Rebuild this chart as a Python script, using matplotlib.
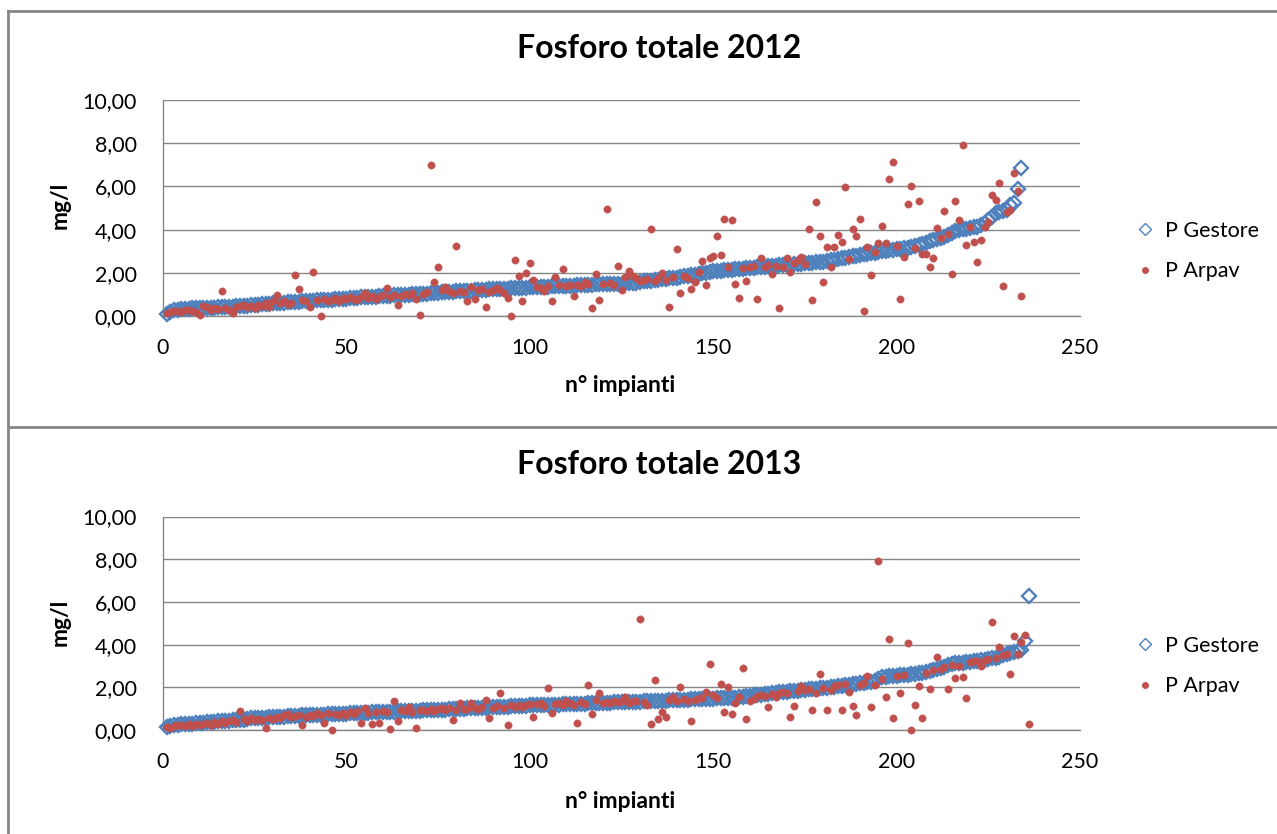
import matplotlib
matplotlib.use("Agg")
import matplotlib.pyplot as plt
from matplotlib.lines import Line2D
from matplotlib.ticker import FuncFormatter
import numpy as np

plt.rcParams["font.family"] = ["Lato", "DejaVu Sans"]

# fosforo totale, mg/l, impianti ordinati per valore del gestore
gestore_2012 = [
    0.10, 0.20, 0.28, 0.30, 0.32, 0.33, 0.34, 0.35, 0.35, 0.36,
    0.37, 0.37, 0.38, 0.39, 0.40, 0.40, 0.41, 0.42, 0.43, 0.44,
    0.45, 0.47, 0.48, 0.50, 0.51, 0.52, 0.54, 0.55, 0.56, 0.58,
    0.59, 0.60, 0.62, 0.63, 0.65, 0.66, 0.67, 0.68, 0.69, 0.70,
    0.71, 0.72, 0.73, 0.74, 0.75, 0.76, 0.77, 0.78, 0.80, 0.81,
    0.83, 0.84, 0.85, 0.86, 0.87, 0.88, 0.89, 0.90, 0.91, 0.92,
    0.93, 0.94, 0.95, 0.96, 0.97, 0.98, 0.99, 1.00, 1.01, 1.02,
    1.03, 1.04, 1.05, 1.06, 1.08, 1.09, 1.10, 1.12, 1.13, 1.14,
    1.15, 1.16, 1.17, 1.18, 1.19, 1.20, 1.21, 1.22, 1.23, 1.24,
    1.25, 1.25, 1.26, 1.27, 1.28, 1.29, 1.30, 1.30, 1.31, 1.32,
    1.33, 1.34, 1.35, 1.35, 1.36, 1.37, 1.38, 1.38, 1.39, 1.40,
    1.40, 1.41, 1.42, 1.43, 1.43, 1.44, 1.45, 1.46, 1.46, 1.47,
    1.48, 1.48, 1.49, 1.50, 1.50, 1.51, 1.51, 1.53, 1.55, 1.58,
    1.60, 1.62, 1.64, 1.66, 1.68, 1.70, 1.72, 1.74, 1.76, 1.78,
    1.80, 1.83, 1.86, 1.89, 1.92, 1.95, 1.98, 2.01, 2.04, 2.07,
    2.09, 2.10, 2.12, 2.13, 2.15, 2.16, 2.18, 2.19, 2.21, 2.22,
    2.24, 2.25, 2.27, 2.28, 2.30, 2.31, 2.33, 2.34, 2.36, 2.37,
    2.38, 2.40, 2.41, 2.42, 2.44, 2.45, 2.47, 2.48, 2.50, 2.52,
    2.55, 2.58, 2.61, 2.64, 2.67, 2.70, 2.73, 2.76, 2.79, 2.82,
    2.85, 2.88, 2.90, 2.93, 2.96, 2.99, 3.02, 3.04, 3.06, 3.08,
    3.10, 3.13, 3.16, 3.20, 3.24, 3.29, 3.34, 3.40, 3.46, 3.52,
    3.56, 3.60, 3.68, 3.76, 3.84, 3.92, 3.99, 4.02, 4.05, 4.08,
    4.10, 4.12, 4.20, 4.30, 4.45, 4.60, 4.75, 4.82, 4.86, 4.90,
    5.15, 5.25, 5.86, 6.85,
]
arpav_2012 = [
    0.15, 0.18, 0.22, 0.25, 0.20, 0.28, 0.30, 0.22, 0.18, 0.05,
    0.48, 0.40, 0.30, 0.35, 0.32, 1.14, 0.38, 0.30, 0.15, 0.42,
    0.45, 0.50, 0.40, 0.48, 0.38, 0.52, 0.45, 0.60, 0.42, 0.70,
    0.97, 0.62, 0.68, 0.55, 0.60, 1.90, 1.25, 0.75, 0.70, 0.43,
    2.04, 0.72, 0.00, 0.80, 0.68, 0.75, 0.82, 0.70, 0.85, 0.78,
    0.88, 0.80, 0.72, 0.90, 1.05, 0.85, 0.92, 0.78, 0.88, 0.95,
    1.28, 0.90, 0.98, 0.51, 0.92, 1.00, 0.95, 1.05, 0.77, 0.05,
    1.02, 1.10, 7.00, 1.57, 2.27, 1.20, 1.36, 1.15, 1.08, 3.24,
    1.18, 1.10, 0.71, 1.33, 0.77, 1.21, 1.25, 0.42, 1.13, 1.22,
    1.28, 1.20, 1.08, 0.82, 0.00, 2.59, 1.87, 0.71, 2.00, 2.47,
    1.67, 1.33, 1.30, 1.17, 1.40, 0.68, 1.79, 1.45, 2.16, 1.38,
    1.42, 0.94, 1.45, 1.40, 1.56, 1.48, 0.36, 1.94, 0.72, 1.50,
    4.94, 1.52, 1.45, 2.31, 1.20, 1.80, 2.10, 1.85, 1.78, 1.60,
    1.65, 1.70, 4.01, 1.62, 1.75, 2.00, 1.68, 0.42, 1.79, 3.12,
    1.05, 1.85, 1.76, 1.25, 1.59, 2.02, 2.53, 1.42, 2.70, 2.78,
    3.70, 2.81, 4.51, 2.27, 4.44, 1.48, 0.85, 2.20, 1.64, 2.25,
    2.30, 0.77, 2.70, 2.28, 2.35, 1.94, 2.32, 0.36, 2.27, 2.69,
    2.04, 2.45, 2.61, 2.72, 2.40, 4.01, 0.73, 5.28, 3.70, 1.57,
    3.18, 2.25, 3.18, 3.75, 3.44, 5.99, 2.65, 4.01, 3.70, 4.51,
    0.25, 3.18, 1.90, 2.95, 3.39, 4.17, 3.39, 6.34, 7.14, 3.24,
    0.77, 2.75, 5.19, 6.02, 3.15, 5.34, 2.87, 2.87, 2.25, 2.70,
    4.09, 3.62, 4.86, 3.80, 1.94, 5.34, 4.44, 7.90, 3.29, 4.14,
    3.44, 2.51, 3.52, 4.10, 4.34, 5.60, 5.37, 6.14, 1.37, 4.81,
    4.90, 6.60, 5.80, 0.94,
]
gestore_2013 = [
    0.12, 0.18, 0.22, 0.24, 0.26, 0.28, 0.29, 0.30, 0.32, 0.34,
    0.35, 0.36, 0.37, 0.38, 0.40, 0.41, 0.42, 0.43, 0.45, 0.46,
    0.47, 0.49, 0.51, 0.54, 0.55, 0.56, 0.57, 0.58, 0.59, 0.60,
    0.61, 0.62, 0.63, 0.64, 0.65, 0.66, 0.67, 0.68, 0.69, 0.70,
    0.70, 0.71, 0.72, 0.72, 0.73, 0.74, 0.75, 0.75, 0.76, 0.77,
    0.78, 0.78, 0.79, 0.80, 0.80, 0.81, 0.82, 0.82, 0.83, 0.84,
    0.85, 0.85, 0.86, 0.87, 0.88, 0.88, 0.89, 0.90, 0.90, 0.91,
    0.92, 0.93, 0.93, 0.94, 0.95, 0.96, 0.96, 0.97, 0.98, 0.99,
    1.00, 1.00, 1.01, 1.02, 1.03, 1.04, 1.04, 1.05, 1.06, 1.07,
    1.08, 1.08, 1.09, 1.10, 1.11, 1.12, 1.12, 1.13, 1.14, 1.15,
    1.15, 1.16, 1.16, 1.17, 1.17, 1.18, 1.19, 1.19, 1.20, 1.21,
    1.21, 1.22, 1.23, 1.23, 1.24, 1.25, 1.25, 1.26, 1.27, 1.27,
    1.28, 1.28, 1.29, 1.29, 1.30, 1.31, 1.31, 1.32, 1.33, 1.33,
    1.34, 1.35, 1.35, 1.36, 1.37, 1.37, 1.38, 1.39, 1.39, 1.40,
    1.41, 1.41, 1.42, 1.43, 1.43, 1.44, 1.45, 1.45, 1.46, 1.47,
    1.48, 1.48, 1.49, 1.50, 1.51, 1.52, 1.54, 1.56, 1.58, 1.60,
    1.62, 1.64, 1.66, 1.68, 1.70, 1.72, 1.74, 1.76, 1.78, 1.80,
    1.82, 1.84, 1.85, 1.87, 1.89, 1.90, 1.92, 1.94, 1.95, 1.97,
    1.99, 2.01, 2.03, 2.05, 2.07, 2.10, 2.12, 2.15, 2.17, 2.20,
    2.22, 2.25, 2.27, 2.30, 2.40, 2.46, 2.50, 2.52, 2.54, 2.55,
    2.56, 2.58, 2.59, 2.61, 2.62, 2.65, 2.68, 2.72, 2.76, 2.80,
    2.85, 2.89, 2.96, 3.03, 3.09, 3.12, 3.14, 3.16, 3.18, 3.20,
    3.22, 3.24, 3.26, 3.28, 3.31, 3.35, 3.39, 3.43, 3.51, 3.56,
    3.61, 3.66, 3.70, 3.75, 4.18, 6.29,
]
arpav_2013 = [
    0.15, 0.10, 0.20, 0.25, 0.22, 0.18, 0.30, 0.20, 0.28, 0.22,
    0.30, 0.35, 0.25, 0.38, 0.30, 0.42, 0.35, 0.40, 0.45, 0.38,
    0.90, 0.50, 0.42, 0.55, 0.48, 0.52, 0.45, 0.08, 0.58, 0.50,
    0.62, 0.55, 0.68, 0.75, 0.60, 0.65, 0.70, 0.23, 0.62, 0.72,
    0.66, 0.78, 0.70, 0.34, 0.80, 0.00, 0.74, 0.68, 0.78, 0.72,
    0.82, 0.75, 0.90, 0.31, 1.05, 0.80, 0.28, 0.85, 0.31, 0.88,
    0.82, 0.03, 1.34, 0.44, 0.95, 0.90, 1.09, 0.85, 0.08, 0.92,
    0.95, 0.88, 1.00, 0.90, 0.98, 1.05, 0.92, 1.02, 0.47, 0.96,
    1.28, 1.00, 0.97, 1.25, 1.05, 1.00, 1.08, 1.40, 0.55, 1.02,
    1.12, 1.72, 1.05, 0.22, 1.15, 1.10, 1.18, 1.08, 1.16, 1.20,
    0.62, 1.22, 1.25, 1.12, 1.95, 0.81, 1.20, 1.28, 1.15, 1.36,
    1.25, 1.18, 0.34, 1.30, 1.22, 2.09, 0.75, 1.40, 1.72, 1.28,
    1.32, 1.25, 1.35, 1.30, 1.38, 1.53, 1.28, 1.35, 1.37, 5.20,
    1.30, 1.17, 0.27, 2.34, 0.52, 0.86, 0.62, 1.40, 1.53, 1.34,
    2.00, 1.45, 1.38, 0.42, 1.40, 1.48, 1.50, 1.78, 3.08, 1.66,
    1.50, 2.15, 0.86, 2.00, 0.75, 1.25, 1.55, 2.89, 0.52, 1.34,
    1.47, 1.60, 1.65, 1.61, 1.08, 1.69, 1.53, 1.75, 1.80, 1.72,
    0.62, 1.12, 1.85, 2.08, 1.86, 1.90, 0.94, 1.72, 2.61, 1.98,
    0.94, 1.86, 2.05, 2.10, 0.94, 2.15, 1.80, 1.14, 0.69, 2.11,
    2.22, 2.54, 1.08, 2.11, 7.93, 2.40, 1.56, 4.25, 0.58, 2.55,
    1.72, 2.58, 4.09, 0.00, 1.17, 2.06, 0.58, 2.65, 1.90, 2.80,
    3.42, 2.85, 2.96, 1.90, 3.05, 2.42, 3.00, 2.50, 1.51, 3.20,
    3.25, 3.22, 3.00, 3.28, 3.31, 5.06, 3.39, 3.90, 3.51, 3.56,
    2.61, 4.40, 3.56, 4.10, 4.47, 0.28,
]

years = ["2012", "2013"]
y_ticks = [0, 2, 4, 6, 8, 10]
x_ticks = [0, 50, 100, 150, 200, 250]

BLUE = "#4F81BD"
RED = "#C0504D"
GREY = "#868686"

W, H = 1277, 834


def fx(px):
    return px / W


def fy(py):
    return 1 - py / H


def draw_panel(ax, gestore, arpav, year, top_px):
    xg = np.arange(1, len(gestore) + 1)
    xa = np.arange(1, len(arpav) + 1)
    ax.plot(xg, gestore, linestyle="none", marker="D", markersize=7.0,
            markerfacecolor="none", markeredgecolor=BLUE, markeredgewidth=1.7,
            clip_on=False, zorder=3)
    ax.plot(xa, arpav, linestyle="none", marker="o", markersize=5.3,
            markerfacecolor=RED, markeredgecolor=RED, markeredgewidth=0.3,
            clip_on=False, zorder=4)

    ax.set_xlim(0, 250)
    ax.set_ylim(0, 10)
    ax.set_xticks(x_ticks)
    ax.set_yticks(y_ticks)
    ax.yaxis.set_major_formatter(FuncFormatter(lambda v, _: f"{v:.2f}".replace(".", ",")))
    ax.tick_params(length=0, labelsize=15.5, colors="black")
    ax.tick_params(axis="x", pad=16)
    ax.tick_params(axis="y", pad=19)
    for side in ("top", "right"):
        ax.spines[side].set_visible(False)
    for side in ("left", "bottom"):
        ax.spines[side].set_color(GREY)
        ax.spines[side].set_linewidth(1.0)
    ax.yaxis.grid(True, color=GREY, linewidth=1.0)
    ax.set_axisbelow(True)

    handles = [
        Line2D([], [], linestyle="none", marker="D", markersize=6,
               markerfacecolor="none", markeredgecolor=BLUE, markeredgewidth=1.0),
        Line2D([], [], linestyle="none", marker="o", markersize=4,
               markerfacecolor=RED, markeredgecolor=RED),
    ]
    ax.legend(handles, ["P Gestore", "P Arpav"], loc="center left",
              bbox_to_anchor=(1.062, 0.30), frameon=False, fontsize=15.5,
              handlelength=0.8, handletextpad=0.5, labelspacing=0.95,
              borderpad=0, borderaxespad=0)

    fig.text(fx(659), fy(top_px + 37), f"Fosforo totale {year}", ha="center",
             va="center", fontsize=23, fontweight="bold")
    fig.text(fx(60), fy(top_px + 194), "mg/l", rotation=90, ha="center",
             va="center", fontsize=16.5, fontweight="bold")
    fig.text(fx(620), fy(top_px + 374), "n° impianti", ha="center",
             va="center", fontsize=16.5, fontweight="bold")


fig = plt.figure(figsize=(W / 100, H / 100), dpi=100)

ax_top = fig.add_axes([fx(163), fy(316), fx(1080 - 163), (316 - 100) / H])
ax_bot = fig.add_axes([fx(163), fy(730), fx(1080 - 163), (730 - 516.5) / H])

draw_panel(ax_top, gestore_2012, arpav_2012, years[0], 11)
draw_panel(ax_bot, gestore_2013, arpav_2013, years[1], 428)

# cornici dei due grafici
for line in [
    ([fx(8), 1.0], [fy(11), fy(11)]),
    ([fx(8), fx(8)], [fy(11), 0.0]),
    ([fx(8), 1.0], [fy(427), fy(427)]),
]:
    fig.add_artist(Line2D(line[0], line[1], color=GREY, linewidth=2.0))

fig.savefig("out.png", dpi=100)
